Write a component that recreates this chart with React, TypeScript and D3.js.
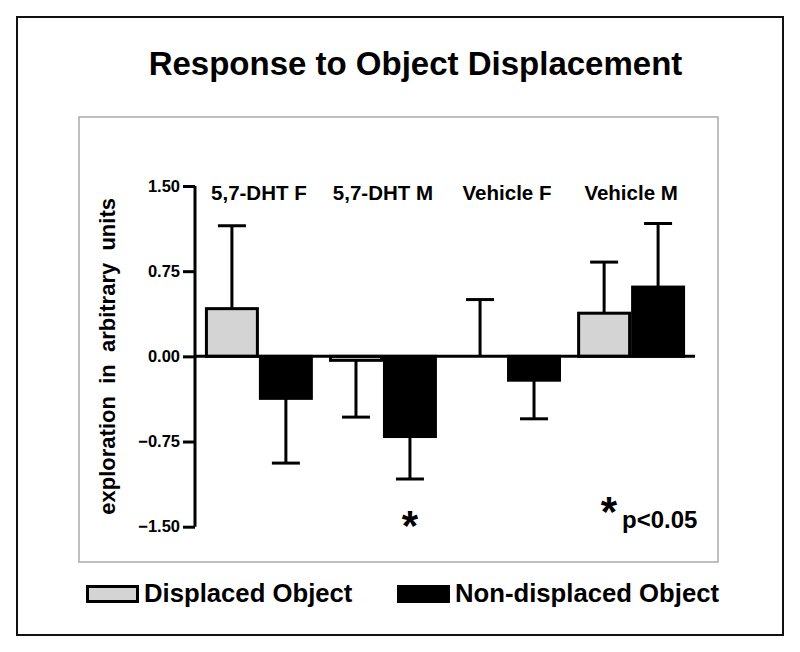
import { useEffect, useRef } from 'react';
import * as d3 from 'd3';

const groups = ['5,7-DHT F', '5,7-DHT M', 'Vehicle F', 'Vehicle M'];
const series = ['Displaced Object', 'Non-displaced Object'];
const displaced = [0.42, -0.035, 0.0, 0.38];
const displacedErr = [0.73, 0.5, 0.5, 0.45];
const nonDisplaced = [-0.37, -0.706, -0.21, 0.61];
const nonDisplacedErr = [0.57, 0.374, 0.34, 0.56];
const yTicks = [-1.5, -0.75, 0, 0.75, 1.5];
const sigGroups = ['5,7-DHT M'];

const FONT = '"Liberation Sans", Arial, sans-serif';

export default function App() {
  const svgRef = useRef<SVGSVGElement>(null);

  useEffect(() => {
    if (!svgRef.current) return;
    const W = 800, H = 652;
    const svg = d3.select(svgRef.current).attr('width', W).attr('height', H);
    svg.selectAll('*').remove();

    svg.append('rect').attr('width', W).attr('height', H).attr('fill', '#fff');

    // outer frame + plot frame
    svg.append('rect').attr('x', 17).attr('y', 17).attr('width', 766).attr('height', 618)
      .attr('fill', 'none').attr('stroke', '#111').attr('stroke-width', 2);
    svg.append('rect').attr('x', 79).attr('y', 117).attr('width', 639).attr('height', 445)
      .attr('fill', 'none').attr('stroke', '#aaa').attr('stroke-width', 1.5);

    svg.append('text')
      .attr('x', 415.5).attr('y', 75).attr('text-anchor', 'middle')
      .attr('font-family', FONT).attr('font-weight', 'bold').attr('font-size', 33)
      .text('Response to Object Displacement');

    const axisX = 195, zeroEnd = 695;
    const y = d3.scaleLinear().domain([-1.5, 1.5]).range([526.7, 186]);
    const x0 = d3.scaleBand().domain(groups).range([axisX, zeroEnd]).paddingInner(0.13).paddingOuter(0.08);
    const x1 = d3.scaleBand().domain(series).range([0, x0.bandwidth()]).padding(0);

    const rows = groups.flatMap((g, i) => [
      { g, s: series[0], v: displaced[i], e: displacedErr[i] },
      { g, s: series[1], v: nonDisplaced[i], e: nonDisplacedErr[i] },
    ]);
    const color = d3.scaleOrdinal<string>().domain(series).range(['#d4d4d4', '#000']);

    // error bars (behind bars)
    const eb = svg.append('g').attr('stroke', '#000').attr('stroke-width', 3);
    rows.forEach(d => {
      const cx = x0(d.g)! + x1(d.s)! + x1.bandwidth() / 2;
      const end = d.v >= 0 ? d.v + d.e : d.v - d.e;
      eb.append('line').attr('x1', cx).attr('x2', cx).attr('y1', y(d.v)).attr('y2', y(end));
      eb.append('line').attr('x1', cx - 14).attr('x2', cx + 14).attr('y1', y(end)).attr('y2', y(end));
    });

    svg.append('g').selectAll('rect').data(rows).enter().append('rect')
      .attr('x', d => x0(d.g)! + x1(d.s)! + 1.5)
      .attr('width', x1.bandwidth() - 3)
      .attr('y', d => y(Math.max(0, d.v)))
      .attr('height', d => Math.abs(y(d.v) - y(0)))
      .attr('fill', d => color(d.s))
      .attr('stroke', '#000').attr('stroke-width', 3);

    // zero line
    svg.append('line').attr('x1', axisX).attr('x2', zeroEnd).attr('y1', y(0)).attr('y2', y(0))
      .attr('stroke', '#000').attr('stroke-width', 3);

    // y axis
    svg.append('g').attr('transform', `translate(${axisX},0)`)
      .call(d3.axisLeft(y).tickValues(yTicks).tickSize(12).tickPadding(3).tickFormat(d => d3.format('.2f')(d as number)))
      .call(gg => gg.select('.domain').attr('stroke-width', 3).attr('d', `M0,${y(-1.5)}V${y(1.5)}`))
      .call(gg => gg.selectAll('.tick line').attr('stroke-width', 3))
      .call(gg => gg.selectAll('text')
        .attr('font-family', FONT).attr('font-weight', 'bold').attr('font-size', 16.5).attr('fill', '#000'));

    svg.append('text')
      .attr('transform', `translate(115,${y(0)}) rotate(-90)`)
      .attr('text-anchor', 'middle')
      .attr('font-family', FONT).attr('font-weight', 'bold').attr('font-size', 22)
      .attr('xml:space', 'preserve').style('white-space', 'pre')
      .text('exploration  in  arbitrary  units');

    // group labels
    svg.append('g').selectAll('text').data(groups).enter().append('text')
      .attr('x', d => x0(d)! + x0.bandwidth() / 2).attr('y', 200)
      .attr('text-anchor', 'middle')
      .attr('font-family', FONT).attr('font-weight', 'bold').attr('font-size', 20.5)
      .text(d => d);

    // significance
    sigGroups.forEach(g => {
      const cx = x0(g)! + x1(series[1])! + x1.bandwidth() / 2;
      svg.append('text').attr('x', cx).attr('y', 540).attr('text-anchor', 'middle')
        .attr('font-family', FONT).attr('font-weight', 'bold').attr('font-size', 42).text('*');
    });
    svg.append('text').attr('x', 609).attr('y', 526).attr('text-anchor', 'middle')
      .attr('font-family', FONT).attr('font-weight', 'bold').attr('font-size', 42).text('*');
    svg.append('text').attr('x', 622).attr('y', 528)
      .attr('font-family', FONT).attr('font-weight', 'bold').attr('font-size', 24).text('p<0.05');

    // legend
    const legX = [86, 397];
    series.forEach((s, i) => {
      svg.append('rect').attr('x', legX[i] + 1.5).attr('y', 586.5).attr('width', 50).attr('height', 15)
        .attr('fill', color(s)).attr('stroke', '#000').attr('stroke-width', 3);
      svg.append('text').attr('x', legX[i] + 58).attr('y', 602)
        .attr('font-family', FONT).attr('font-weight', 'bold').attr('font-size', 25.7).text(s);
    });
  }, []);

  return (
    <div style={{ position: 'absolute', left: 0, top: 0 }}>
      <svg ref={svgRef} style={{ display: 'block' }} />
    </div>
  );
}
